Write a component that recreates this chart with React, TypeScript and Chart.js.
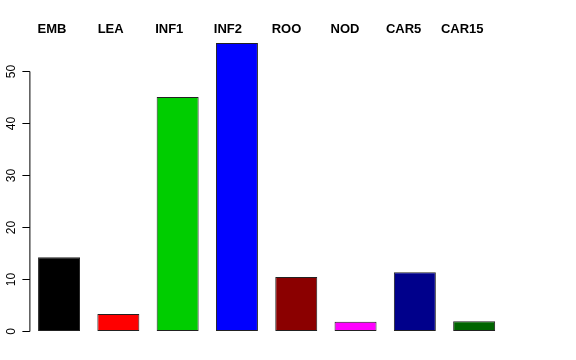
import React, { useEffect, useRef } from "react";
import { Chart, registerables } from "chart.js";

Chart.register(...registerables);

const categories = ["EMB", "LEA", "INF1", "INF2", "ROO", "NOD", "CAR5", "CAR15"];
const values = [14.2, 3.3, 45.0, 55.4, 10.4, 1.8, 11.3, 1.9];
const barColors = ["#000000", "#FF0000", "#00CD00", "#0000FF", "#8B0000", "#FF00FF", "#00008B", "#006400"];
const yTicks = [0, 10, 20, 30, 40, 50];

const decorPlugin = {
  id: "rdecor",
  afterDraw(chart: any) {
    const ctx = chart.ctx;
    const y = chart.scales.y;
    const x = chart.scales.x;
    const axisX = chart.chartArea.left;
    ctx.save();
    ctx.strokeStyle = "#000";
    ctx.lineWidth = 1;
    const y0 = y.getPixelForValue(yTicks[0]);
    const y1 = y.getPixelForValue(yTicks[yTicks.length - 1]);
    ctx.beginPath();
    ctx.moveTo(axisX + 0.5, Math.round(y0) + 0.5);
    ctx.lineTo(axisX + 0.5, Math.round(y1) + 0.5);
    ctx.stroke();
    ctx.font = "12px 'Liberation Sans', Arial, sans-serif";
    ctx.fillStyle = "#000";
    ctx.textAlign = "center";
    ctx.textBaseline = "middle";
    yTicks.forEach((v) => {
      const py = Math.round(y.getPixelForValue(v)) + 0.5;
      ctx.beginPath();
      ctx.moveTo(axisX - 7, py);
      ctx.lineTo(axisX + 0.5, py);
      ctx.stroke();
      ctx.save();
      ctx.translate(axisX - 18, py);
      ctx.rotate(-Math.PI / 2);
      ctx.fillText(String(v), 0, 0);
      ctx.restore();
    });
    ctx.font = "bold 13px 'Liberation Sans', Arial, sans-serif";
    ctx.textAlign = "center";
    ctx.textBaseline = "middle";
    categories.forEach((c, i) => {
      const cx = x.getPixelForValue(i);
      ctx.fillText(c, cx - 7 - i * 0.7, 29);
    });
    ctx.restore();
  },
};

export default function App() {
  const ref = useRef<HTMLCanvasElement>(null);
  useEffect(() => {
    document.body.style.margin = "0";
    const chart = new Chart(ref.current!, {
      type: "bar",
      data: {
        labels: categories,
        datasets: [
          {
            data: values,
            backgroundColor: barColors,
            borderColor: "#222222",
            borderWidth: 1,
            borderSkipped: false,
            barPercentage: 0.708,
            categoryPercentage: 1,
          },
        ],
      },
      options: {
        animation: false,
        responsive: false,
        maintainAspectRatio: false,
        layout: { padding: { left: 29.4, right: 72.2, top: 31.5, bottom: 17.5 } },
        plugins: { legend: { display: false }, tooltip: { enabled: false } },
        scales: {
          x: { display: false, offset: true },
          y: { display: false, min: -2.2, max: 57.6 },
        },
      },
      plugins: [decorPlugin],
    });
    return () => chart.destroy();
  }, []);
  return (
    <div style={{ position: "absolute", left: 0, top: 0, width: 576, height: 360, background: "#fff" }}>
      <canvas ref={ref} width={576} height={360} style={{ width: 576, height: 360 }} />
    </div>
  );
}
